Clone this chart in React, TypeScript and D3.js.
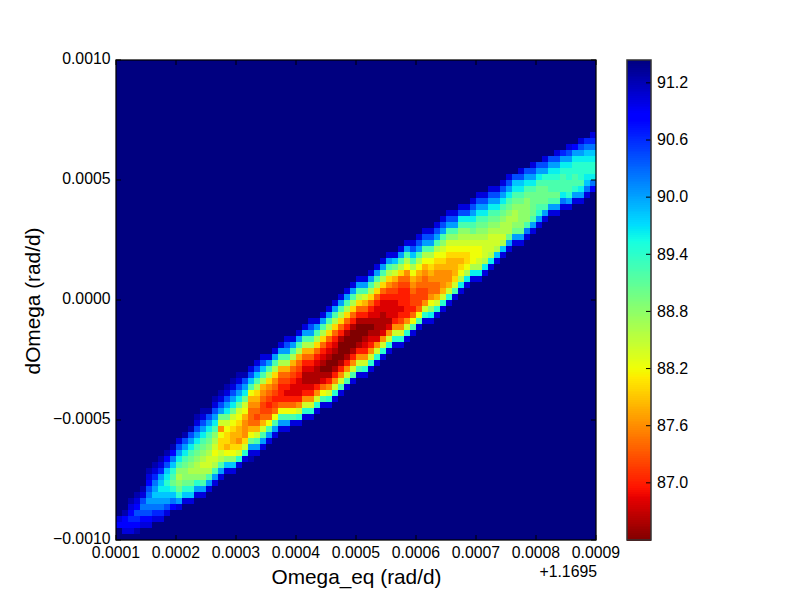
import React from "react";
import * as d3 from "d3";

// Heat map cells, column by column.
// firstRows[c] = first non-navy row counted from the top (80 rows),
// columnLevels[c] = colour level per row, a (low value) .. z (high value).
const firstRows = [
  76, 75, 73, 72, 71, 68, 67, 66, 65, 64, 63, 62, 61, 59, 58, 58, 56, 55, 54, 53,
  52, 52, 51, 50, 49, 49, 48, 47, 46, 46, 45, 44, 43, 43, 42, 41, 40, 39, 38, 37,
  36, 36, 35, 34, 33, 32, 32, 31, 30, 30, 29, 28, 28, 27, 26, 25, 25, 24, 24, 23,
  22, 22, 21, 21, 20, 19, 19, 18, 18, 17, 17, 16, 16, 15, 15, 14, 14, 13, 13, 12,
];
const columnLevels = [
  "xw", "ywwx", "yxwvwx", "yxwuvwy", "yxutuwx", "yxwutstuwx", "yxvtsrstvx", "yxvsrqrstvx",
  "ywurqpqrsux", "ywtrponprtw", "xusqomlmnpsx", "yusqonmmnprx", "yusqonmlmnprx", "yxusqonmllmpsx",
  "yxusqonmlklmosx", "yusqonmlkklosx", "yxusqomlkjklosx", "yxusnkgjiiklosx", "yxusqnkjiihjmrx",
  "yxusqnkjihhijmrx", "yxusqnkjihhgikpx", "yusqnkjhgggikpx", "xurojhgfffhjnsxy", "xurolihgfefhkosx",
  "xurolhgfeefhkosx", "xsoligfedefjosx", "xsoligfedefjosx", "xsolhfedddfjosx", "xusolhfedcdfjosx",
  "xsolhfedccdfjox", "xsolhfedcccdgkpx", "xsolhfdcbbcdgkpx", "xusolhfdcbbcdgkpx", "xsolifdcbbbdgkpx",
  "xsolifdcbabcfjox", "xsolifdcbaabdgkpx", "xsolifdcbaabdgkpx", "xsolifdbaaabdgkox", "xsolifdbaaabdgkox",
  "xsolifdbaaabdgkox", "xsolifdbaaabdgkox", "xsokhfdbaabcdgkpx", "xsolifdcbabcdgkpx", "xsolifdccbbbcgkpx",
  "xsolifdccbbbcgkpx", "xsoligedcccbcgkpx", "xrnkhfedcccdgkpx", "xsolifedddcdegkpx", "xsoljgfedddddgkpx",
  "xuroljhgfeedfjox", "xusoljhgfeeefjox", "xusoljhgffeegkpx", "xusoljihgffgjmqx", "xusoljihggffhkpx",
  "xusomkjihggghkpx", "xusomkjihhgghkpx", "xusomkjihhhikox", "xuqomlkjihijlqx", "xuqomlkjiijlqx",
  "xusqonlkjjjlqx", "xusqonmlkjjklqx", "xusqonmlkkklqx", "xusqonmlkkklqx", "xusqonmlkklrx",
  "xusqonmllklrx", "xusqonmlllnsx", "urqonmllmnsx", "xurqonmmmmnsx", "usqonmmmmotx", "xusqonnnnosx",
  "usqonnnopsx", "xusponnnosx", "usqpoonosx", "xusqpoonosx", "vsqpoooqtx", "xusqppoopsx", "wsqppoopsx",
  "xusqpppoqsx", "vtrqppqrtx", "xvtrqppqtw",
];

const xTicks = [0.0001, 0.0002, 0.0003, 0.0004, 0.0005, 0.0006, 0.0007, 0.0008, 0.0009];
const yTicks = [-0.001, -0.0005, 0, 0.0005, 0.001];
const colorbarTicks = [91.2, 90.6, 90.0, 89.4, 88.8, 88.2, 87.6, 87.0];
const valueMin = 86.4;
const valueMax = 91.44;

const W = 800;
const H = 600;
const plot = { l: 116, r: 596, t: 60, b: 540 };
const bar = { l: 627, r: 651 };
const FONT = '"Liberation Sans", Arial, sans-serif';
const COLUMNS = 80;
const ROWS = 80;

const x = d3.scaleLinear().domain([0.0001, 0.0009]).range([plot.l, plot.r]);
const y = d3.scaleLinear().domain([-0.001, 0.001]).range([plot.b, plot.t]);
const columnToX = d3.scaleLinear().domain([0, COLUMNS]).range([plot.l, plot.r]);
const rowToY = d3.scaleLinear().domain([0, ROWS]).range([plot.t, plot.b]);
const barY = d3.scaleLinear().domain([valueMin, valueMax]).range([plot.b, plot.t]);
const levelToValue = d3.scaleLinear().domain([0, 25]).range([valueMin, valueMax]);

// matplotlib "jet" channels, reversed so that low values are dark red.
const red = d3.scaleLinear().domain([0, 0.35, 0.66, 0.89, 1]).range([0, 0, 1, 1, 0.5]);
const green = d3.scaleLinear().domain([0, 0.125, 0.375, 0.64, 0.91, 1]).range([0, 0, 1, 1, 0, 0]);
const blue = d3.scaleLinear().domain([0, 0.11, 0.34, 0.65, 1]).range([0.5, 1, 1, 0, 0]);
const jetR = (t: number) => {
  const p = 1 - t;
  return d3.rgb(red(p) * 255, green(p) * 255, blue(p) * 255).formatHex();
};
const valueToT = d3.scaleLinear().domain([valueMin, valueMax]).range([0, 1]).clamp(true);
const color = (v: number) => jetR(valueToT(v));

const fmt = (v: number) => {
  const s = Math.abs(v).toFixed(4);
  return v < 0 ? "\u2212" + s : s;
};

const barBands = d3.range(256);
const bandHeight = (plot.b - plot.t) / 256;

export default function App() {
  const cells: React.ReactNode[] = [];
  columnLevels.forEach((levels, c) => {
    levels.split("").forEach((ch, i) => {
      const r = firstRows[c] + i;
      const v = levelToValue(ch.charCodeAt(0) - 97);
      cells.push(
        <rect
          key={`${c}-${r}`}
          x={columnToX(c)}
          y={rowToY(r)}
          width={columnToX(c + 1) - columnToX(c)}
          height={rowToY(r + 1) - rowToY(r)}
          fill={color(v)}
        />
      );
    });
  });

  return (
    <svg
      width={W}
      height={H}
      viewBox={`0 0 ${W} ${H}`}
      style={{ position: "absolute", left: 0, top: 0, background: "#fff" }}
      fontFamily={FONT}
    >
      <rect x={plot.l} y={plot.t} width={plot.r - plot.l} height={plot.b - plot.t} fill={color(valueMax)} />
      <g shapeRendering="crispEdges">{cells}</g>

      {xTicks.map((t) => (
        <g key={t} stroke="#000" strokeWidth={1}>
          <line x1={x(t)} x2={x(t)} y1={plot.b} y2={plot.b - 5} />
          <line x1={x(t)} x2={x(t)} y1={plot.t} y2={plot.t + 5} />
        </g>
      ))}
      {yTicks.map((t) => (
        <g key={t} stroke="#000" strokeWidth={1}>
          <line x1={plot.l} x2={plot.l + 5} y1={y(t)} y2={y(t)} />
          <line x1={plot.r} x2={plot.r - 5} y1={y(t)} y2={y(t)} />
        </g>
      ))}
      <rect x={plot.l} y={plot.t} width={plot.r - plot.l} height={plot.b - plot.t} fill="none" stroke="#000" strokeWidth={1.25} />

      {xTicks.map((t) => (
        <text key={t} x={x(t)} y={557.5} textAnchor="middle" fontSize={15.8}>
          {fmt(t)}
        </text>
      ))}
      {yTicks.map((t) => (
        <text key={t} x={plot.l - 5.5} y={y(t) + 4.2} textAnchor="end" fontSize={15.8}>
          {fmt(t)}
        </text>
      ))}
      <text x={597} y={577} textAnchor="end" fontSize={15.8}>
        +1.1695
      </text>
      <text x={356.5} y={584} textAnchor="middle" fontSize={20.8}>
        Omega_eq (rad/d)
      </text>
      <text transform="translate(40,301) rotate(-90)" textAnchor="middle" fontSize={20.8}>
        dOmega (rad/d)
      </text>

      <g shapeRendering="crispEdges">
        {barBands.map((i) => (
          <rect
            key={i}
            x={bar.l}
            y={plot.b - (i + 1) * bandHeight}
            width={bar.r - bar.l}
            height={bandHeight + 0.5}
            fill={jetR((i + 0.5) / 256)}
          />
        ))}
      </g>
      {colorbarTicks.map((t) => (
        <line key={t} x1={bar.r} x2={bar.r - 5} y1={barY(t)} y2={barY(t)} stroke="#000" strokeWidth={1} />
      ))}
      <rect x={bar.l} y={plot.t} width={bar.r - bar.l} height={plot.b - plot.t} fill="none" stroke="#333" strokeWidth={1.5} />
      {colorbarTicks.map((t) => (
        <text key={t} x={bar.r + 6} y={barY(t) + 5.3} fontSize={16}>
          {t.toFixed(1)}
        </text>
      ))}
    </svg>
  );
}
